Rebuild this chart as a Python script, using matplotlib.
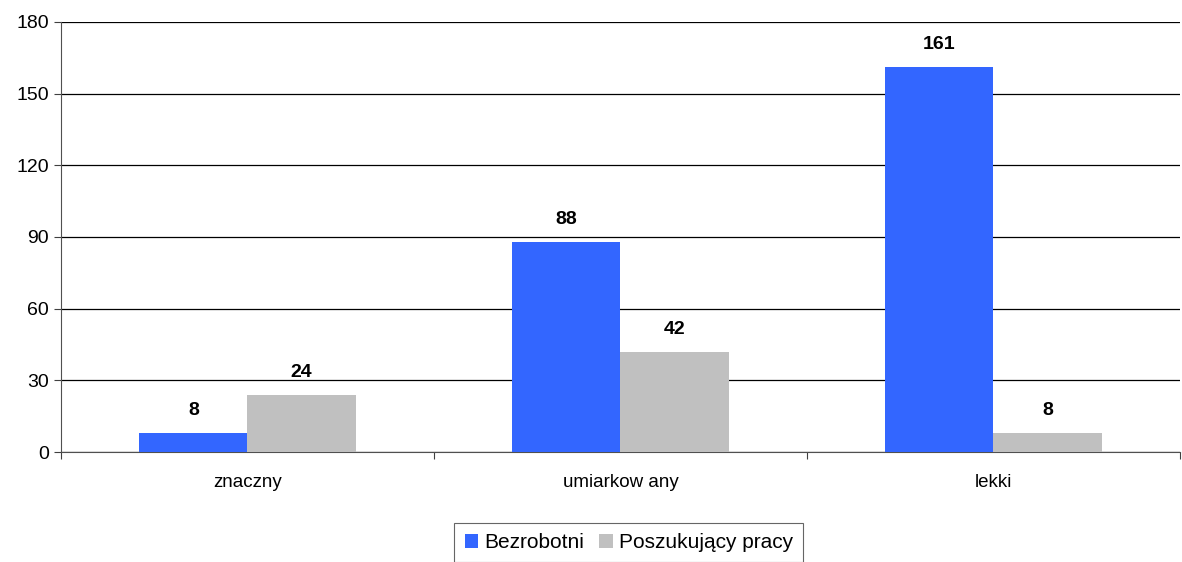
import matplotlib.pyplot as plt
import numpy as np

plt.rcParams['font.family'] = ['Liberation Sans', 'DejaVu Sans']

categories = ['znaczny', 'umiarkow any', 'lekki']
bezrobotni = [8, 88, 161]
poszukujacy = [24, 42, 8]
series_names = ['Bezrobotni', 'Poszukujący pracy']


def draw_chart():
    fig = plt.figure(figsize=(11.82, 5.62), dpi=100)
    ax = fig.add_axes([0.0516, 0.1957, 0.9467, 0.7653])
    x = np.arange(len(categories))
    w = 0.29
    b1 = ax.bar(x - w / 2, bezrobotni, w, color='#3366FF', label=series_names[0], zorder=3)
    b2 = ax.bar(x + w / 2, poszukujacy, w, color='#C0C0C0', label=series_names[1], zorder=3)
    for bars in (b1, b2):
        for rect in bars:
            ax.annotate(str(int(rect.get_height())),
                        (rect.get_x() + rect.get_width() / 2, rect.get_height()),
                        xytext=(0, 10), textcoords='offset points',
                        ha='center', va='bottom', fontsize=14, fontweight='bold')

    ax.set_xlim(-0.5, 2.5)
    ax.set_ylim(0, 180)
    ax.set_yticks(range(0, 181, 30))
    ax.set_xticks([-0.5, 0.5, 1.5, 2.5], minor=False)
    ax.set_xticklabels([])
    ax.set_xticks(x, minor=True)
    ax.set_xticklabels(categories, minor=True)
    ax.tick_params(axis='x', which='minor', length=0, pad=16, labelsize=13.5)
    ax.tick_params(axis='x', which='major', length=5, direction='out', color='#404040')
    ax.tick_params(axis='y', length=5, direction='out', labelsize=14, color='#404040')
    ax.grid(axis='y', color='black', linewidth=0.9, zorder=0)
    for s in ('top', 'right'):
        ax.spines[s].set_visible(False)
    ax.spines['left'].set_color('#505050')
    ax.spines['bottom'].set_color('#505050')

    leg = fig.legend(loc='upper center', bbox_to_anchor=(0.532, 0.070), ncol=2,
                     fontsize=15, frameon=True, fancybox=False, edgecolor='#404040',
                     handlelength=0.65, handleheight=0.65, handletextpad=0.3,
                     columnspacing=0.7, borderpad=0.5, borderaxespad=0)
    leg.get_frame().set_linewidth(0.8)
    fig.savefig('out.png')


if __name__ == '__main__':
    draw_chart()
